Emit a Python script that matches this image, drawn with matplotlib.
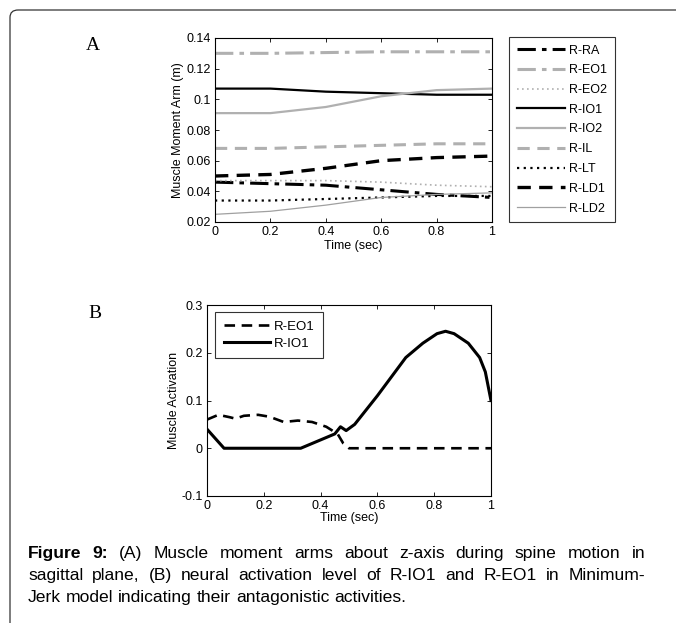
import matplotlib
matplotlib.use("Agg")
from matplotlib import pyplot as plt
from matplotlib.patches import FancyBboxPatch

plt.rcParams['font.family'] = ['Liberation Sans', 'DejaVu Sans']

# panel A: moment arms
t_a = [0, 0.2, 0.4, 0.6, 0.8, 1.0]
r_ra = [0.046, 0.045, 0.044, 0.041, 0.038, 0.036]
r_eo1 = [0.130, 0.130, 0.1305, 0.131, 0.131, 0.131]
r_eo2 = [0.047, 0.047, 0.047, 0.046, 0.044, 0.043]
r_io1 = [0.107, 0.107, 0.105, 0.104, 0.103, 0.103]
r_io2 = [0.091, 0.091, 0.095, 0.102, 0.106, 0.107]
r_il = [0.068, 0.068, 0.069, 0.070, 0.071, 0.071]
r_lt = [0.034, 0.034, 0.035, 0.036, 0.037, 0.037]
r_ld1 = [0.050, 0.051, 0.055, 0.060, 0.062, 0.063]
r_ld2 = [0.025, 0.027, 0.031, 0.036, 0.038, 0.039]

# panel B: activation
t_io1 = [0, 0.06, 0.33, 0.37, 0.41, 0.45, 0.47, 0.49, 0.52, 0.56, 0.60, 0.65,
         0.70, 0.76, 0.81, 0.84, 0.87, 0.92, 0.96, 0.98, 1.0]
act_io1 = [0.04, 0.0, 0.0, 0.01, 0.02, 0.03, 0.045, 0.037, 0.05, 0.08, 0.11, 0.15,
           0.19, 0.22, 0.24, 0.245, 0.24, 0.22, 0.19, 0.16, 0.10]
t_eo1 = [0, 0.04, 0.08, 0.10, 0.13, 0.18, 0.22, 0.27, 0.32, 0.37, 0.42, 0.46,
         0.48, 0.50, 1.0]
act_eo1 = [0.06, 0.07, 0.065, 0.062, 0.068, 0.07, 0.066, 0.055, 0.058, 0.055,
           0.045, 0.03, 0.01, 0.0, 0.0]

caption_lines = [
    'Figure 9: (A) Muscle moment arms about z-axis during spine motion in',
    'sagittal plane, (B) neural activation level of R-IO1 and R-EO1 in Minimum-',
    'Jerk model indicating their antagonistic activities.',
]

fig = plt.figure(figsize=(6.76, 6.23), dpi=100)
W, H = 676, 623


def px(x0, y0, x1, y1):
    return [x0 / W, 1 - y1 / H, (x1 - x0) / W, (y1 - y0) / H]


def matlab_style(ax):
    ax.tick_params(direction='in', top=True, right=True, labelsize=9, length=3,
                   width=0.6, pad=3)
    for s in ax.spines.values():
        s.set_linewidth(0.8)


gray = '#b0b0b0'
ax1 = fig.add_axes(px(215, 38, 492, 222))
ax1.plot(t_a, r_ra, color='black', ls=(0, (6, 2, 1.5, 2)), lw=2.2, label='R-RA')
ax1.plot(t_a, r_eo1, color=gray, ls=(0, (6, 2, 1.5, 2)), lw=2.2, label='R-EO1')
ax1.plot(t_a, r_eo2, color=gray, ls=(0, (1, 2)), lw=1.2, label='R-EO2')
ax1.plot(t_a, r_io1, color='black', ls='-', lw=1.6, label='R-IO1')
ax1.plot(t_a, r_io2, color=gray, ls='-', lw=1.6, label='R-IO2')
ax1.plot(t_a, r_il, color=gray, ls=(0, (4, 2.5)), lw=2.2, label='R-IL')
ax1.plot(t_a, r_lt, color='black', ls=(0, (1, 2)), lw=1.6, label='R-LT')
ax1.plot(t_a, r_ld1, color='black', ls=(0, (4, 2.5)), lw=2.4, label='R-LD1')
ax1.plot(t_a, r_ld2, color='#a0a0a0', ls='-', lw=0.9, label='R-LD2')
ax1.set_xlim(0, 1)
ax1.set_ylim(0.02, 0.14)
ax1.set_xticks([0, 0.2, 0.4, 0.6, 0.8, 1])
ax1.set_xticklabels(['0', '0.2', '0.4', '0.6', '0.8', '1'])
ax1.set_yticks([0.02, 0.04, 0.06, 0.08, 0.1, 0.12, 0.14])
ax1.set_yticklabels(['0.02', '0.04', '0.06', '0.08', '0.1', '0.12', '0.14'])
ax1.set_xlabel('Time (sec)', fontsize=9, labelpad=1)
ax1.set_ylabel('Muscle Moment Arm (m)', fontsize=9, labelpad=2)
matlab_style(ax1)
leg1 = ax1.legend(loc='upper left', bbox_to_anchor=(509 / W, 1 - 37 / H),
                  bbox_transform=fig.transFigure, borderaxespad=0,
                  fontsize=9, frameon=True, fancybox=False, edgecolor='black',
                  handlelength=3.9, handletextpad=0.3, labelspacing=0.62,
                  borderpad=0.6)
leg1.get_frame().set_linewidth(0.8)

ax2 = fig.add_axes(px(207, 305, 491, 496))
ax2.plot(t_eo1, act_eo1, color='black', ls=(0, (4, 2.5)), lw=1.9, label='R-EO1')
ax2.plot(t_io1, act_io1, color='black', ls='-', lw=2.2, label='R-IO1')
ax2.set_xlim(0, 1)
ax2.set_ylim(-0.1, 0.3)
ax2.set_xticks([0, 0.2, 0.4, 0.6, 0.8, 1])
ax2.set_xticklabels(['0', '0.2', '0.4', '0.6', '0.8', '1'])
ax2.set_yticks([-0.1, 0, 0.1, 0.2, 0.3])
ax2.set_yticklabels(['-0.1', '0', '0.1', '0.2', '0.3'])
ax2.set_xlabel('Time (sec)', fontsize=9, labelpad=0)
ax2.set_ylabel('Muscle Activation', fontsize=9, labelpad=1)
matlab_style(ax2)
leg2 = ax2.legend(loc='upper left', bbox_to_anchor=(215 / W, 1 - 312 / H),
                  bbox_transform=fig.transFigure, borderaxespad=0,
                  fontsize=9.5, frameon=True, fancybox=False,
                  edgecolor='black', handlelength=3.5, handletextpad=0.3,
                  labelspacing=0.35, borderpad=0.65)
leg2.get_frame().set_linewidth(0.8)

fig.text(86 / W, 1 - 45 / H, 'A', fontsize=14, family='Liberation Serif',
         va='center', ha='left')
fig.text(88 / W, 1 - 313 / H, 'B', fontsize=14, family='Liberation Serif',
         va='center', ha='left')

# outer frame, cut by the right and bottom edges
frame = FancyBboxPatch((10 / W, -20 / H), 680 / W, 633 / H,
                       boxstyle='round,pad=0,rounding_size=0.012',
                       transform=fig.transFigure, fill=False,
                       edgecolor='#333333', lw=0.9, clip_on=False)
fig.patches.append(frame)

# justified caption, word by word
renderer = fig.canvas.get_renderer()
x_left, x_right = 28, 645
baselines = [558, 580, 602]
fs = 12.6
for i, line in enumerate(caption_lines):
    words = line.split(' ')
    texts = []
    for j, w in enumerate(words):
        bold = (i == 0 and j < 2)
        t = fig.text(0, 1 - baselines[i] / H, w, fontsize=fs, va='baseline',
                     ha='left', weight='bold' if bold else 'normal')
        texts.append(t)
    widths = [t.get_window_extent(renderer).width for t in texts]
    if i < len(caption_lines) - 1:
        gap = (x_right - x_left - sum(widths)) / (len(words) - 1)
    else:
        gap = 0.28 * fs * 100 / 72
    x = x_left
    for t, w in zip(texts, widths):
        t.set_x(x / W)
        x += w + gap

fig.savefig('out.png', dpi=100)
